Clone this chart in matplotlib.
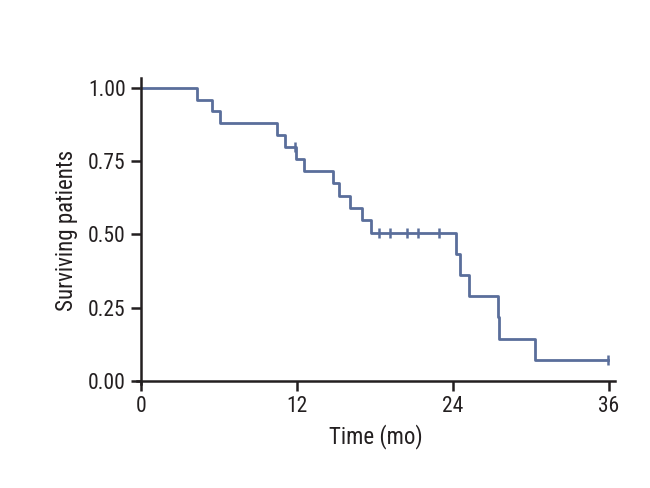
import matplotlib
matplotlib.use('Agg')
import matplotlib.pyplot as plt

# step times (months) and survival after each step
step_times = [0, 4.28, 5.49, 6.08, 10.5, 11.1, 11.9, 12.56, 14.74, 15.23,
              16.08, 16.97, 17.69, 24.23, 24.54, 25.2, 27.46, 27.52, 30.3, 35.9]
survival = [1.0, 0.96, 0.92, 0.88, 0.84, 0.80, 0.758, 0.716, 0.674, 0.632,
            0.590, 0.548, 0.505, 0.433, 0.361, 0.289, 0.217, 0.144, 0.072, 0.072]

# censored observations
censor_times = [11.82, 18.33, 19.15, 20.5, 21.28, 22.9, 35.9]
censor_surv = [0.80, 0.505, 0.505, 0.505, 0.505, 0.505, 0.072]

xticks = [0, 12, 24, 36]
yticks = [0.0, 0.25, 0.5, 0.75, 1.0]

plt.rcParams['font.family'] = ['Roboto Condensed', 'DejaVu Sans']

line_color = '#5a6e9b'
axis_color = '#231f20'

fig = plt.figure(figsize=(6.5, 4.88), dpi=100)
ax = fig.add_axes([0.2109, 0.2133, 0.736, 0.6275])

ax.step(step_times, survival, where='post', color=line_color, lw=2.0)
ax.plot(censor_times, censor_surv, ls='none', marker='|', ms=7, mew=1.8,
        color=line_color)

ax.set_xlim(-0.3, 36.5)
ax.set_ylim(-0.01, 1.035)
ax.set_xticks(xticks)
ax.set_xticklabels([str(t) for t in xticks])
ax.set_yticks(yticks)
ax.set_yticklabels(['%.2f' % v for v in yticks])

for s in ['top', 'right']:
    ax.spines[s].set_visible(False)
for s in ['left', 'bottom']:
    ax.spines[s].set_position(('data', 0))
    ax.spines[s].set_linewidth(1.8)
    ax.spines[s].set_color(axis_color)

ax.tick_params(direction='out', length=7, width=1.8, color=axis_color,
               labelsize=15.5, labelcolor=axis_color, pad=4)

ax.set_xlabel('Time (mo)', fontsize=16.5, color=axis_color, labelpad=5)
ax.set_ylabel('Surviving patients', fontsize=16.5, color=axis_color,
              labelpad=7)

fig.savefig('out.png', dpi=100)
plt.close('all')
